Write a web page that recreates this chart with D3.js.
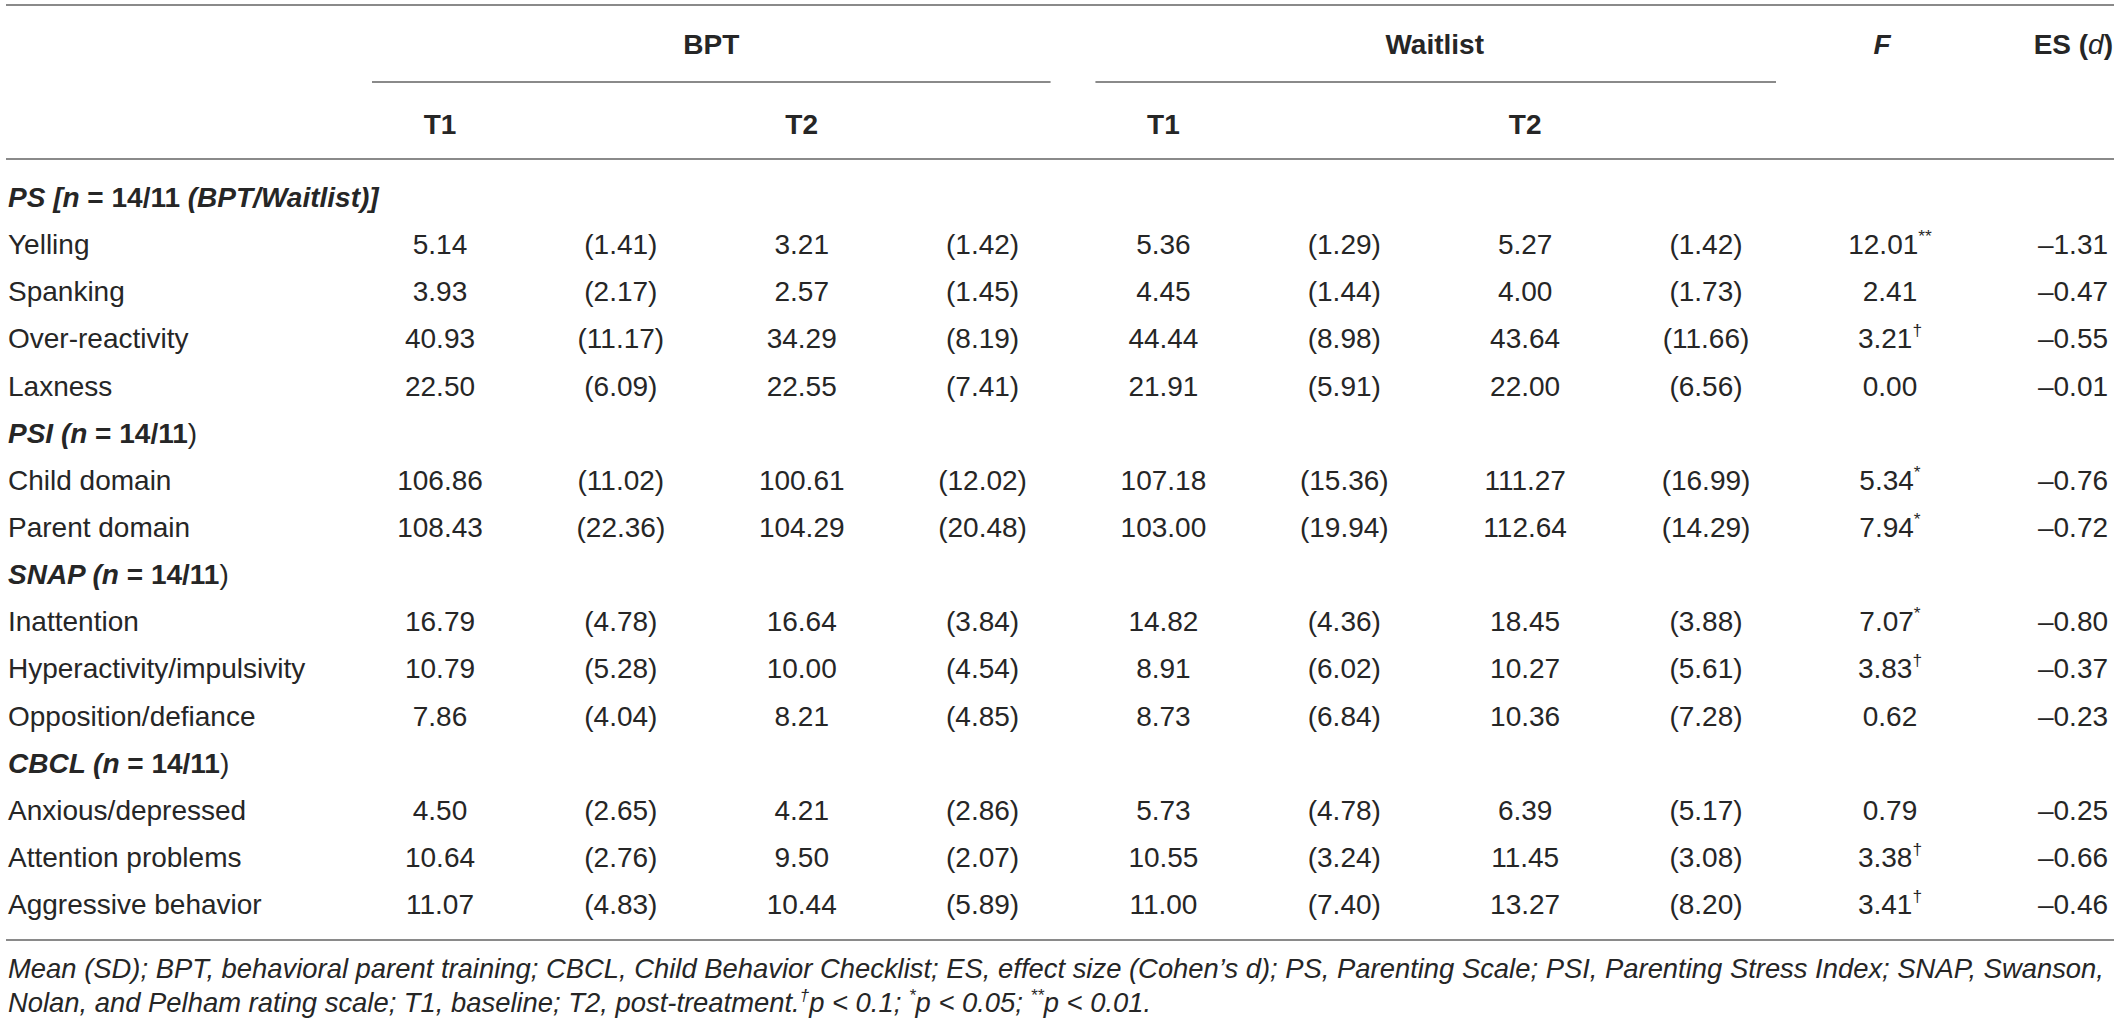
<!DOCTYPE html>
<html>
<head>
<meta charset="utf-8">
<script src="https://cdn.jsdelivr.net/npm/d3@7"></script>
<style>
  body { margin: 0; background: #fff; }
  svg { display: block; }
  text { font-family: "Liberation Sans", Arial, Helvetica, sans-serif; }
</style>
</head>
<body>
<div id="chart"></div>
<script>
// group / time headers
var groups = ["BPT", "Waitlist"];
var times = ["T1", "T2"];

// sections and their measures
var sectionNames = ["PS", "PSI", "SNAP", "CBCL"];
var sectionItems = [
  ["Yelling", "Spanking", "Over-reactivity", "Laxness"],
  ["Child domain", "Parent domain"],
  ["Inattention", "Hyperactivity/impulsivity", "Opposition/defiance"],
  ["Anxious/depressed", "Attention problems", "Aggressive behavior"]
];

// values, one entry per measure (same order as above)
var bptT1Mean = [5.14, 3.93, 40.93, 22.50, 106.86, 108.43, 16.79, 10.79, 7.86, 4.50, 10.64, 11.07];
var bptT1SD   = [1.41, 2.17, 11.17, 6.09, 11.02, 22.36, 4.78, 5.28, 4.04, 2.65, 2.76, 4.83];
var bptT2Mean = [3.21, 2.57, 34.29, 22.55, 100.61, 104.29, 16.64, 10.00, 8.21, 4.21, 9.50, 10.44];
var bptT2SD   = [1.42, 1.45, 8.19, 7.41, 12.02, 20.48, 3.84, 4.54, 4.85, 2.86, 2.07, 5.89];
var wlT1Mean  = [5.36, 4.45, 44.44, 21.91, 107.18, 103.00, 14.82, 8.91, 8.73, 5.73, 10.55, 11.00];
var wlT1SD    = [1.29, 1.44, 8.98, 5.91, 15.36, 19.94, 4.36, 6.02, 6.84, 4.78, 3.24, 7.40];
var wlT2Mean  = [5.27, 4.00, 43.64, 22.00, 111.27, 112.64, 18.45, 10.27, 10.36, 6.39, 11.45, 13.27];
var wlT2SD    = [1.42, 1.73, 11.66, 6.56, 16.99, 14.29, 3.88, 5.61, 7.28, 5.17, 3.08, 8.20];
var fValues   = [12.01, 2.41, 3.21, 0.00, 5.34, 7.94, 7.07, 3.83, 0.62, 0.79, 3.38, 3.41];
var fSig      = ["**", "", "\u2020", "", "*", "*", "*", "\u2020", "", "", "\u2020", "\u2020"];
var esValues  = [-1.31, -0.47, -0.55, -0.01, -0.76, -0.72, -0.80, -0.37, -0.23, -0.25, -0.66, -0.46];

var footLine1 = "Mean (SD); BPT, behavioral parent training; CBCL, Child Behavior Checklist; ES, effect size (Cohen\u2019s d); PS, Parenting Scale; PSI, Parenting Stress Index; SNAP, Swanson,";
var footLine2 = [
  ["Nolan, and Pelham rating scale; T1, baseline; T2, post-treatment.", false],
  ["\u2020", true], ["p < 0.1; ", false],
  ["*", true], ["p < 0.05; ", false],
  ["**", true], ["p < 0.01.", false]
];

function draw_table(){
  var width = 2118,
      height = 1025;
  var fs = 28;
  var ink = "#262626",
      ruleColor = "#8a8a8a";

  var fmt = d3.format(".2f");

  var svg = d3.select("#chart")
      .append("svg")
      .attr("width", width)
      .attr("height", height);

  // columns: 8 mean/sd columns, then F, then ES
  var x = d3.scaleLinear()
      .domain([0, 7, 8, 9])
      .range([440, 1706, 1890, 2073]);

  // build the body rows
  var rows = [];
  var k = 0;
  sectionNames.forEach(function(s, i){
    rows.push({type: "head", name: s, first: i === 0});
    sectionItems[i].forEach(function(lab){
      rows.push({type: "row", label: lab, i: k});
      k++;
    });
  });

  var y = d3.scaleLinear()
      .domain([0, rows.length - 1])
      .range([197, 904]);
  rows.forEach(function(r, i){ r.y = y(i); });

  // rules
  var rules = [
    {x1: 6, x2: 2114, y: 5},
    {x1: x(0) - 68, x2: x(3) + 68, y: 82},
    {x1: x(4) - 68, x2: x(7) + 70, y: 82},
    {x1: 6, x2: 2114, y: 159},
    {x1: 6, x2: 2114, y: 940}
  ];
  svg.selectAll(".rule")
      .data(rules)
      .enter().append("line")
      .attr("class", "rule")
      .attr("x1", function(d){ return d.x1; })
      .attr("x2", function(d){ return d.x2; })
      .attr("y1", function(d){ return d.y; })
      .attr("y2", function(d){ return d.y; })
      .style("stroke", ruleColor)
      .style("stroke-width", 2);

  // group headers
  svg.selectAll(".group")
      .data(groups)
      .enter().append("text")
      .attr("class", "group")
      .attr("x", function(d, i){ return (x(i*4) + x(i*4 + 3)) / 2; })
      .attr("y", 44)
      .attr("dy", "0.36em")
      .attr("text-anchor", "middle")
      .style("font-weight", "bold")
      .style("font-size", fs + "px")
      .style("fill", ink)
      .text(function(d){ return d; });

  var timeCells = [];
  groups.forEach(function(g, gi){
    times.forEach(function(t, ti){ timeCells.push({t: t, col: gi*4 + ti*2}); });
  });
  svg.selectAll(".time")
      .data(timeCells)
      .enter().append("text")
      .attr("class", "time")
      .attr("x", function(d){ return x(d.col); })
      .attr("y", 124)
      .attr("dy", "0.36em")
      .attr("text-anchor", "middle")
      .style("font-weight", "bold")
      .style("font-size", fs + "px")
      .style("fill", ink)
      .text(function(d){ return d.t; });

  svg.append("text")
      .attr("x", x(8) - 8)
      .attr("y", 44)
      .attr("dy", "0.36em")
      .attr("text-anchor", "middle")
      .style("font-weight", "bold")
      .style("font-style", "italic")
      .style("font-size", fs + "px")
      .style("fill", ink)
      .text("F");

  var esHead = svg.append("text")
      .attr("x", 2113)
      .attr("y", 44)
      .attr("dy", "0.36em")
      .attr("text-anchor", "end")
      .style("font-weight", "bold")
      .style("font-size", fs + "px")
      .style("fill", ink);
  esHead.append("tspan").text("ES (");
  esHead.append("tspan").style("font-style", "italic").style("font-weight", "normal").text("d");
  esHead.append("tspan").text(")");

  // section header rows
  var heads = svg.selectAll(".shead")
      .data(rows.filter(function(r){ return r.type === "head"; }))
      .enter().append("text")
      .attr("class", "shead")
      .attr("x", 8)
      .attr("y", function(d){ return d.y; })
      .attr("dy", "0.36em")
      .style("font-size", fs + "px")
      .style("fill", ink);
  heads.each(function(d){
    var t = d3.select(this);
    t.append("tspan").style("font-weight", "bold").style("font-style", "italic").text(d.name + (d.first ? " [" : " ("));
    t.append("tspan").style("font-weight", "bold").style("font-style", "italic").text("n");
    if (d.first) {
      t.append("tspan").style("font-weight", "bold").text(" = 14/11 ");
      t.append("tspan").style("font-weight", "bold").style("font-style", "italic").text("(BPT/Waitlist)]");
    } else {
      t.append("tspan").style("font-weight", "bold").text(" = 14/11");
      t.append("tspan").text(")");
    }
  });

  // data rows
  var body = rows.filter(function(r){ return r.type === "row"; });
  var g_rows = svg.selectAll(".drow")
      .data(body)
      .enter().append("g")
      .attr("class", "drow")
      .attr("transform", function(d){ return "translate(0," + d.y + ")"; });

  g_rows.append("text")
      .attr("x", 8)
      .attr("dy", "0.36em")
      .style("font-size", fs + "px")
      .style("fill", ink)
      .text(function(d){ return d.label; });

  var statCols = [bptT1Mean, bptT1SD, bptT2Mean, bptT2SD, wlT1Mean, wlT1SD, wlT2Mean, wlT2SD];
  g_rows.selectAll(".cell")
      .data(function(d){
        return statCols.map(function(arr, c){
          var v = fmt(arr[d.i]);
          return {col: c, txt: c % 2 ? "(" + v + ")" : v};
        });
      })
      .enter().append("text")
      .attr("class", "cell")
      .attr("x", function(d){ return x(d.col); })
      .attr("dy", "0.36em")
      .attr("text-anchor", "middle")
      .style("font-size", fs + "px")
      .style("fill", ink)
      .text(function(d){ return d.txt; });

  var fText = g_rows.append("text")
      .attr("x", x(8))
      .attr("dy", "0.36em")
      .attr("text-anchor", "middle")
      .style("font-size", fs + "px")
      .style("fill", ink);
  fText.append("tspan").text(function(d){ return fmt(fValues[d.i]); });
  fText.append("tspan")
      .attr("dy", -12)
      .style("font-size", (fs*0.62) + "px")
      .text(function(d){ return fSig[d.i]; });

  g_rows.append("text")
      .attr("x", x(9))
      .attr("dy", "0.36em")
      .attr("text-anchor", "middle")
      .style("font-size", fs + "px")
      .style("fill", ink)
      .text(function(d){ return fmt(esValues[d.i]).replace("-", "\u2013").replace("\u2212", "\u2013"); });

  // footnote (y = baselines)
  var foot1 = svg.append("text")
      .attr("x", 8)
      .attr("y", 978)
      .style("font-size", "27px")
      .style("font-style", "italic")
      .style("fill", ink)
      .text(footLine1);

  var foot2 = svg.append("text")
      .attr("x", 8)
      .attr("y", 1012)
      .style("font-size", "27px")
      .style("font-style", "italic")
      .style("fill", ink);
  foot2.selectAll("tspan")
      .data(footLine2)
      .enter().append("tspan")
      .attr("dy", function(d, i){
        if (d[1]) return -11;
        return (i > 0 && footLine2[i-1][1]) ? 11 : null;
      })
      .style("font-size", function(d){ return d[1] ? "17px" : null; })
      .text(function(d){ return d[0]; });

  // stretch the first footnote line to the table width
  var len = foot1.node().getComputedTextLength();
  var fsFoot = 27 * 2097 / len;
  foot1.style("font-size", fsFoot + "px");
  foot2.style("font-size", fsFoot + "px");
}

draw_table();
</script>
</body>
</html>
